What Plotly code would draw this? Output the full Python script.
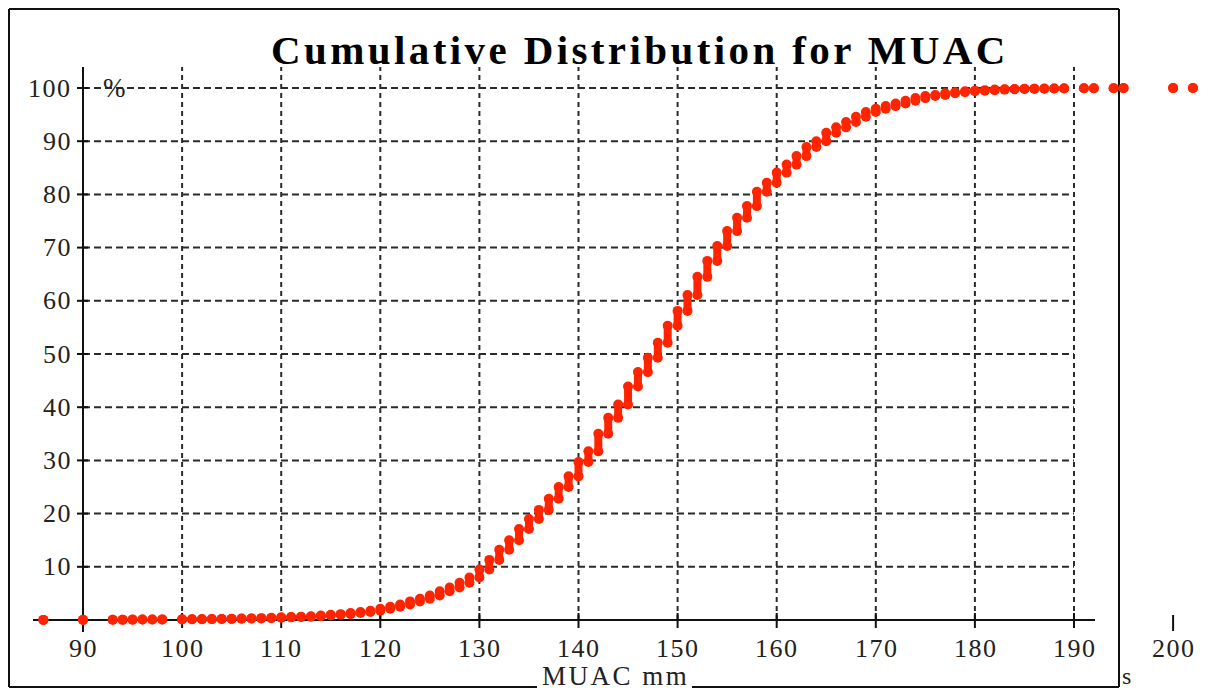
import plotly.graph_objects as go

# MUAC (mm) values and cumulative percentage at each value
muac_mm = [86, 90, 93, 94, 95, 96, 97, 98, 100, 101, 102, 103, 104, 105, 106, 107, 108, 109, 110,
           111, 112, 113, 114, 115, 116, 117, 118, 119, 120,
           121, 122, 123, 124, 125, 126, 127, 128, 129, 130,
           131, 132, 133, 134, 135, 136, 137, 138, 139, 140,
           141, 142, 143, 144, 145, 146, 147, 148, 149, 150,
           151, 152, 153, 154, 155, 156, 157, 158, 159, 160,
           161, 162, 163, 164, 165, 166, 167, 168, 169, 170,
           171, 172, 173, 174, 175, 176, 177, 178, 179, 180,
           181, 182, 183, 184, 185, 186, 187, 188, 189,
           191, 192, 194, 195, 200, 202]
cum_pct = [0.02, 0.04, 0.06, 0.07, 0.08, 0.09, 0.10, 0.11, 0.13, 0.15, 0.17, 0.19, 0.21, 0.24, 0.27, 0.30, 0.35, 0.42, 0.50,
           0.55, 0.60, 0.72, 0.85, 1.0, 1.1, 1.3, 1.5, 1.75, 2.1,
           2.5, 2.9, 3.5, 4.0, 4.6, 5.4, 6.1, 7.0, 8.0, 9.5,
           11.3, 13.2, 15.0, 17.1, 19.0, 20.7, 22.8, 25.0, 27.0, 29.7,
           31.7, 35.0, 38.0, 40.5, 43.9, 46.6, 49.3, 52.1, 55.3, 58.1,
           61.1, 64.5, 67.5, 70.3, 73.1, 75.6, 77.8, 80.5, 82.2, 84.1,
           85.6, 87.2, 88.9, 90.0, 91.6, 92.6, 93.6, 94.6, 95.5, 96.1,
           96.6, 97.1, 97.6, 98.1, 98.5, 98.7, 99.0, 99.2, 99.4, 99.5,
           99.6, 99.7, 99.75, 99.8, 99.85, 99.85, 99.9, 99.9, 99.95,
           99.95, 99.96, 99.97, 99.98, 99.99, 100.0]

x_ticks = [90, 100, 110, 120, 130, 140, 150, 160, 170, 180, 190]
x_extra_tick = 200
y_ticks = [10, 20, 30, 40, 50, 60, 70, 80, 90, 100]

RED = "#ff2400"
INK = "#222222"
SERIF = "Liberation Serif, Times New Roman, serif"

W, H = 1205, 691
# axis ranges chosen so that 90 mm sits at x=83px and 0 % at y=620px
PX_PER_MM = 9.91
PX_PER_PCT = 5.32
x_range = [90 - 83 / PX_PER_MM, 90 + (W - 83) / PX_PER_MM]
y_range = [-(H - 620) / PX_PER_PCT, 100 + 88 / PX_PER_PCT]


def px_to_y(py):
    return (620 - py) / PX_PER_PCT


def px_to_x(px):
    return 90 + (px - 83) / PX_PER_MM


def spaced(text, px):
    return f'<span style="letter-spacing:{px}px">{text}</span>'


# vertical bars: at each value the curve climbs from the previous cumulative level
bar_x, bar_y, end_x, end_y = [], [], [], []
prev = cum_pct[0]
for xv, yv in zip(muac_mm, cum_pct):
    bar_x += [xv, xv, None]
    bar_y += [prev, yv, None]
    end_x += [xv, xv]
    end_y += [prev, yv]
    prev = yv

fig = go.Figure()
fig.add_trace(go.Scatter(x=bar_x, y=bar_y, mode="lines",
                         line=dict(color=RED, width=8), hoverinfo="skip", showlegend=False))
fig.add_trace(go.Scatter(x=end_x, y=end_y, mode="markers",
                         marker=dict(color=RED, size=10, line=dict(width=0)), showlegend=False))

shapes = []
grid_top = px_to_y(67)
grid_line = dict(color="#2a2a2a", width=2)

# dashed grid
for xv in x_ticks[1:]:
    shapes.append(dict(type="line", xref="x", yref="y", x0=xv, x1=xv, y0=0, y1=grid_top,
                       line=dict(grid_line, dash="5px,4px"), layer="below"))
for yv in y_ticks:
    shapes.append(dict(type="line", xref="x", yref="y", x0=x_ticks[0], x1=x_ticks[-1], y0=yv, y1=yv,
                       line=dict(grid_line, dash="7px,4px"), layer="below"))

# axes
axis_line = dict(color="#111111", width=2)
shapes.append(dict(type="line", xref="x", yref="y", x0=px_to_x(33), x1=px_to_x(1095), y0=0, y1=0,
                   line=axis_line, layer="below"))
shapes.append(dict(type="line", xref="x", yref="y", x0=90, x1=90, y0=px_to_y(632), y1=grid_top,
                   line=axis_line, layer="below"))
for yv in y_ticks:
    shapes.append(dict(type="line", xref="x", yref="y", x0=px_to_x(77), x1=px_to_x(88), y0=yv, y1=yv,
                       line=axis_line, layer="below"))
for xv in x_ticks:
    shapes.append(dict(type="line", xref="x", yref="y", x0=xv, x1=xv, y0=px_to_y(628), y1=px_to_y(613),
                       line=axis_line, layer="below"))
shapes.append(dict(type="line", xref="x", yref="y", x0=x_extra_tick, x1=x_extra_tick,
                   y0=px_to_y(631), y1=px_to_y(615), line=axis_line, layer="below"))

# outer frame, broken at the bottom by the axis title
frame = dict(color="#111111", width=2)


def hline(px0, px1, py):
    return dict(type="line", xref="paper", yref="paper", x0=px0 / W, x1=px1 / W,
                y0=1 - py / H, y1=1 - py / H, line=frame, layer="below")


def vline(px, py0, py1):
    return dict(type="line", xref="paper", yref="paper", x0=px / W, x1=px / W,
                y0=1 - py0 / H, y1=1 - py1 / H, line=frame, layer="below")


shapes += [hline(9, 1119, 9), hline(9, 537, 687), hline(692, 1119, 687),
           vline(9, 9, 687), vline(1119, 9, 687)]

tick_font = dict(family=SERIF, size=26, color=INK)
annotations = []
for yv in y_ticks:
    annotations.append(dict(x=px_to_x(74), y=yv, xref="x", yref="y", text=spaced(yv, 1.5), showarrow=False,
                            xanchor="right", yanchor="middle", font=tick_font))
for xv in x_ticks + [x_extra_tick]:
    annotations.append(dict(x=xv + 0.08, y=px_to_y(648), xref="x", yref="y", text=spaced(xv, 1.5),
                            showarrow=False, xanchor="center", yanchor="middle", font=tick_font))
annotations.append(dict(x=px_to_x(101), y=px_to_y(88), xref="x", yref="y", text="%", showarrow=False,
                        xanchor="left", yanchor="middle", font=dict(family=SERIF, size=27, color=INK)))
annotations.append(dict(x=615 / W, y=1 - 676 / H, xref="paper", yref="paper", text=spaced("MUAC mm", 2.5),
                        showarrow=False, xanchor="center", yanchor="middle",
                        font=dict(family=SERIF, size=27, color=INK)))
annotations.append(dict(x=1120 / W, y=1 - 676 / H, xref="paper", yref="paper", text="s",
                        showarrow=False, xanchor="left", yanchor="middle",
                        font=dict(family=SERIF, size=24, color=INK)))
annotations.append(dict(x=640 / W, y=1 - 50 / H, xref="paper", yref="paper",
                        text="<b>" + spaced("Cumulative Distribution for MUAC", 3.4) + "</b>", showarrow=False,
                        xanchor="center", yanchor="middle",
                        font=dict(family=SERIF, size=41, color="#000000")))

fig.update_layout(
    width=W, height=H, margin=dict(l=0, r=0, t=0, b=0, pad=0),
    paper_bgcolor="white", plot_bgcolor="white",
    xaxis=dict(range=x_range, visible=False, fixedrange=True),
    yaxis=dict(range=y_range, visible=False, fixedrange=True),
    shapes=shapes, annotations=annotations, showlegend=False,
)

fig.write_html("out.html")
